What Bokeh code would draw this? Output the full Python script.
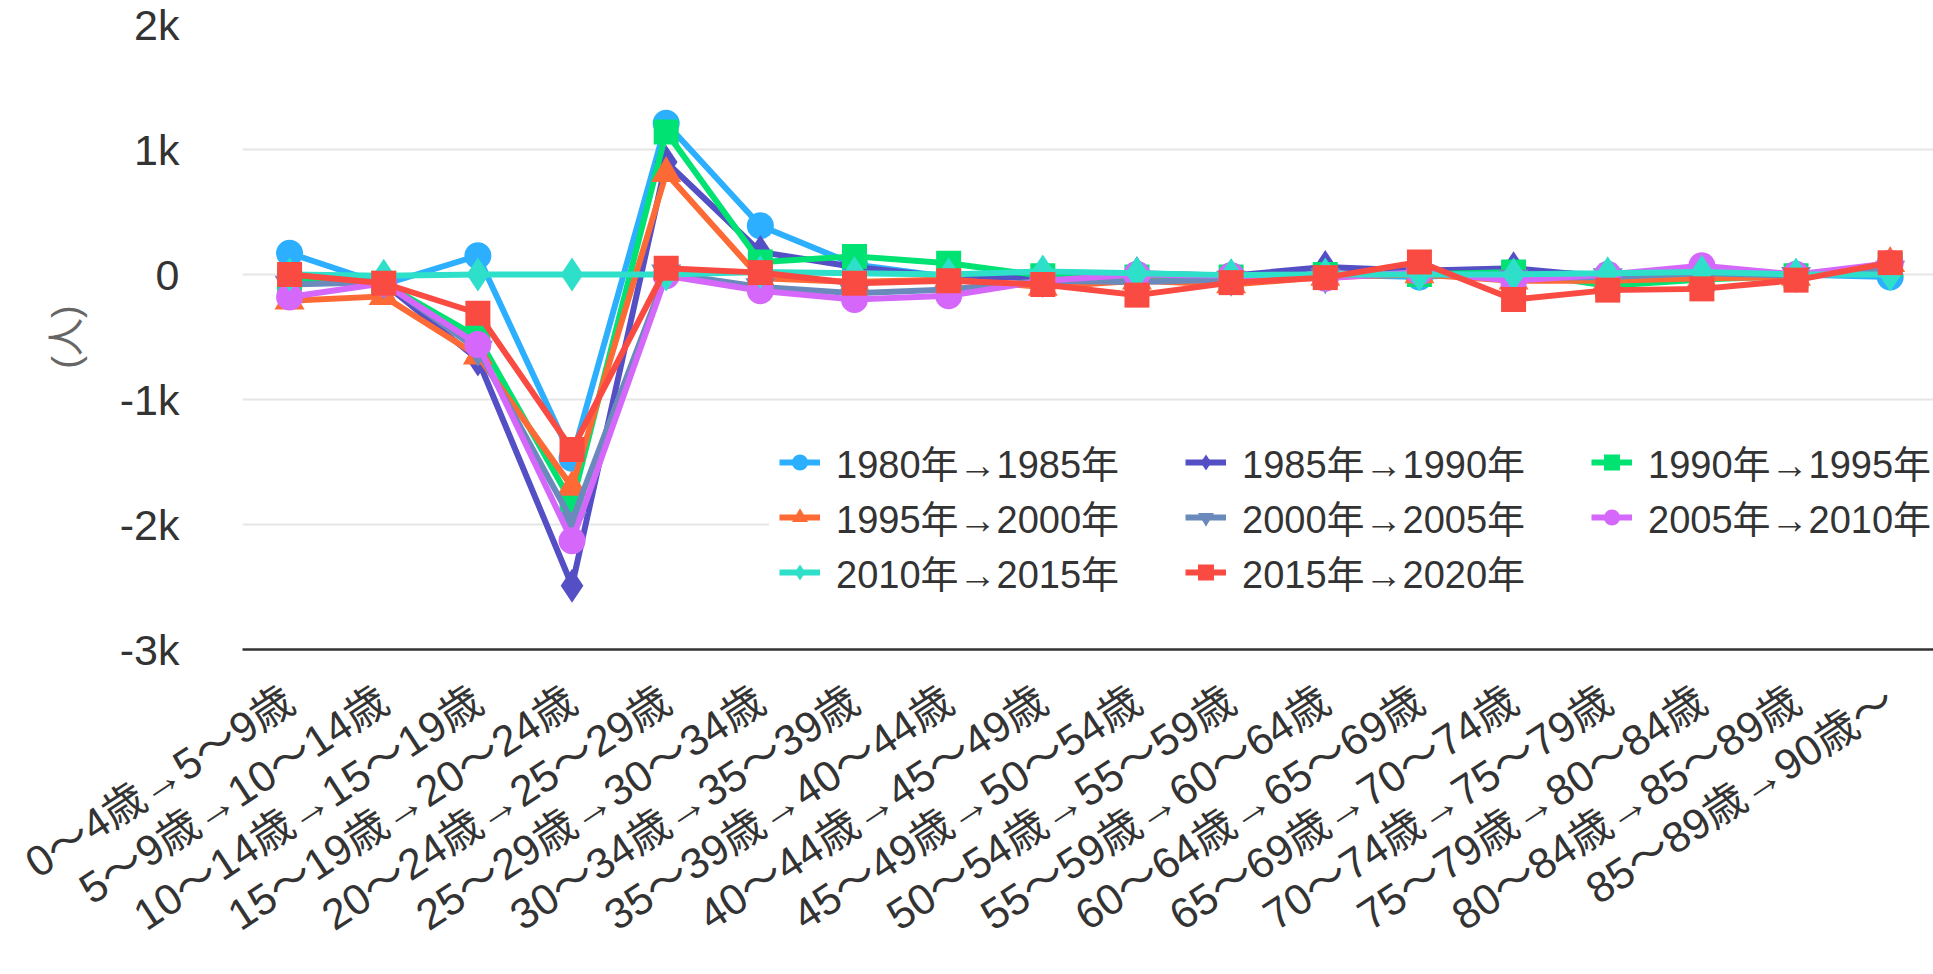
from bokeh.plotting import figure
from bokeh.models import Range1d, FixedTicker, Legend, LegendItem
from bokeh.embed import file_html
from bokeh.resources import INLINE

categories = [
    "0～4歳→5～9歳", "5～9歳→10～14歳", "10～14歳→15～19歳", "15～19歳→20～24歳",
    "20～24歳→25～29歳", "25～29歳→30～34歳", "30～34歳→35～39歳", "35～39歳→40～44歳",
    "40～44歳→45～49歳", "45～49歳→50～54歳", "50～54歳→55～59歳", "55～59歳→60～64歳",
    "60～64歳→65～69歳", "65～69歳→70～74歳", "70～74歳→75～79歳", "75～79歳→80～84歳",
    "80～84歳→85～89歳", "85～89歳→90歳～",
]

series_names = ["1980年→1985年", "1985年→1990年", "1990年→1995年", "1995年→2000年",
                "2000年→2005年", "2005年→2010年", "2010年→2015年", "2015年→2020年"]

v1980_1985 = [170, -80, 150, -1470, 1210, 390, 80, -20, -10, 0, -10, 0, -20, 20, 0, 10, 0, -20]
v1985_1990 = [-50, -70, -680, -2490, 900, 180, 60, -20, -20, 10, -10, 60, 30, 50, -20, 10, -10, 30]
v1990_1995 = [-50, -70, -500, -1830, 1140, 100, 145, 90, -10, -20, -20, 0, 0, 20, -90, -40, -10, 80]
v1995_2000 = [-210, -175, -650, -1700, 810, -30, -60, -40, -100, -50, -80, -20, 0, -50, -50, -30, -20, 90]
v2000_2005 = [-80, -60, -600, -1970, 10, -100, -150, -120, -50, -60, -40, -20, 10, -30, -20, 10, -10, 40]
v2005_2010 = [-180, -70, -560, -2130, -10, -130, -200, -170, -50, 0, -10, -30, 20, -50, 0, 70, 0, 90]
v2010_2015 = [0, -10, 0, 0, 0, 20, 10, 0, 25, 10, -5, 0, 0, 0, 10, 20, 0, 0]
v2015_2020 = [0, -70, -310, -1400, 50, 15, -70, -50, -80, -165, -65, -25, 100, -200, -125, -115, -45, 95]

y_ticks = [-3000, -2000, -1000, 0, 1000, 2000]
y_tick_labels = ["-3k", "-2k", "-1k", "0", "1k", "2k"]

colors = ["#2caffe", "#544fc5", "#00e272", "#fe6a35", "#6b8abc", "#d568fb", "#2ee0ca", "#fa4b42"]
markers = ["circle", "diamond", "square", "triangle", "inverted_triangle", "circle", "diamond", "square"]
sizes = [27, 34, 25, 30, 30, 27, 34, 25]
all_values = [v1980_1985, v1985_1990, v1990_1995, v1995_2000, v2000_2005, v2005_2010, v2010_2015, v2015_2020]

FONT = "Liberation Sans, Noto Sans CJK JP"
XTICK_FS = "43px"
YTICK_FS = "43px"
FS = "38px"

p = figure(width=1933, height=970, output_backend="svg", toolbar_location=None,
           x_range=Range1d(-0.5, 17.46), y_range=Range1d(-3000, 2000),
           min_border_left=242, min_border_right=0, min_border_top=24, min_border_bottom=321)
p.outline_line_color = None
p.background_fill_color = "white"
p.xgrid.grid_line_color = None
p.ygrid.grid_line_color = "#e6e6e6"
p.ygrid.grid_line_width = 2

xs = list(range(len(categories)))
p.xaxis.ticker = FixedTicker(ticks=xs)
p.xaxis.major_label_overrides = {i: c for i, c in zip(xs, categories)}
p.xaxis.major_label_orientation = 0.58
p.xaxis.major_tick_line_color = None
p.xaxis.minor_tick_line_color = None
p.xaxis.axis_line_color = "#333333"
p.xaxis.axis_line_width = 2.5
p.xaxis.major_label_text_font = FONT
p.xaxis.major_label_text_font_size = XTICK_FS
p.xaxis.major_label_text_color = "#333333"
p.xaxis.major_label_standoff = 41

p.yaxis.ticker = FixedTicker(ticks=y_ticks)
p.yaxis.major_label_overrides = {t: l for t, l in zip(y_ticks, y_tick_labels)}
p.yaxis.major_tick_line_color = None
p.yaxis.minor_tick_line_color = None
p.yaxis.axis_line_color = None
p.yaxis.major_label_text_font = FONT
p.yaxis.major_label_text_font_size = YTICK_FS
p.yaxis.major_label_text_color = "#333333"
p.yaxis.major_label_standoff = 57
p.yaxis.axis_label = "(人)"
p.yaxis.axis_label_text_font = FONT
p.yaxis.axis_label_text_font_size = FS
p.yaxis.axis_label_text_font_style = "normal"
p.yaxis.axis_label_text_color = "#666666"
p.yaxis.axis_label_standoff = 30

items = []
for name, vals, col, mk, sz in zip(series_names, all_values, colors, markers, sizes):
    lr = p.line(xs, vals, line_color=col, line_width=6)
    sr = p.scatter(xs, vals, marker=mk, size=sz, fill_color=col, line_color=col, line_width=0)
    items.append(LegendItem(label=name, renderers=[lr, sr]))

legend = Legend(items=items, ncols=3, orientation="horizontal", location=(527, 40),
                label_text_font=FONT, label_text_font_size=FS, label_text_color="#333333",
                background_fill_color="white", background_fill_alpha=1.0,
                border_line_alpha=0, glyph_width=41, glyph_height=40, label_standoff=16,
                spacing=0, padding=10, margin=0, label_width=349)
p.add_layout(legend)

open("out.html", "w").write(file_html(p, INLINE))
